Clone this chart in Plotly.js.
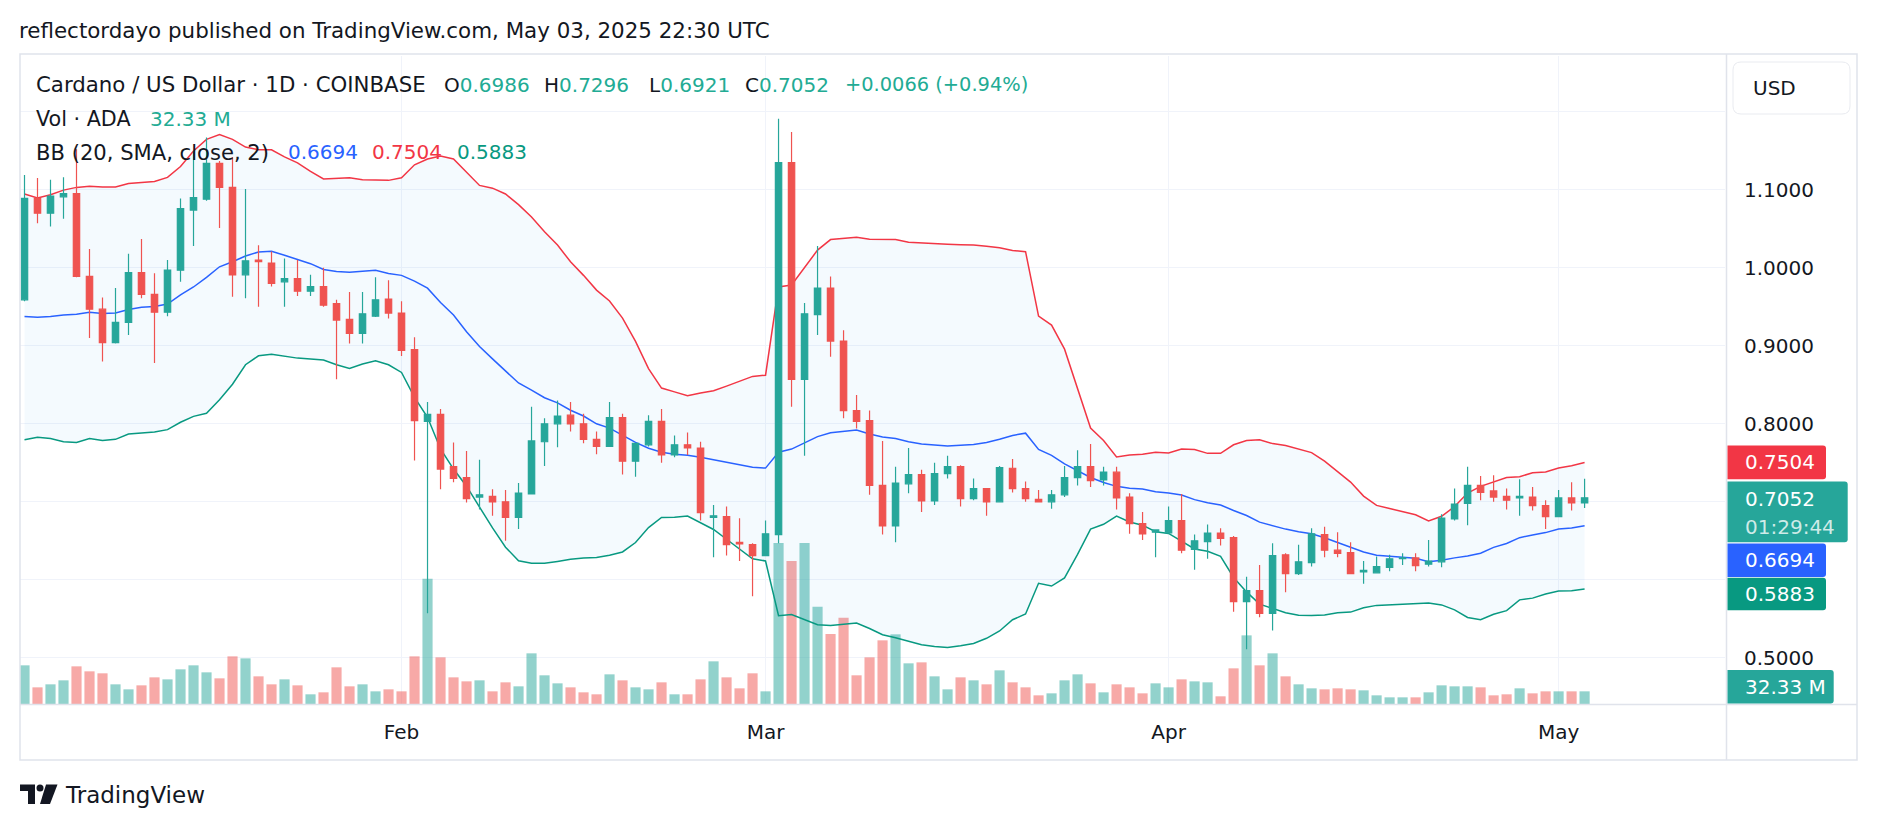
<!DOCTYPE html>
<html>
<head>
<meta charset="utf-8">
<script src="https://cdn.plot.ly/plotly-3.0.1.min.js"></script>
<style>
html,body{margin:0;padding:0;background:#ffffff;overflow:hidden;}
#chart{width:1878px;height:830px;}
</style>
</head>
<body>
<div id="chart"></div>
<script>
// ---------------- DATA ----------------
const dates = [
"2025-01-03","2025-01-04","2025-01-05","2025-01-06","2025-01-07","2025-01-08","2025-01-09","2025-01-10","2025-01-11","2025-01-12",
"2025-01-13","2025-01-14","2025-01-15","2025-01-16","2025-01-17","2025-01-18","2025-01-19","2025-01-20","2025-01-21","2025-01-22",
"2025-01-23","2025-01-24","2025-01-25","2025-01-26","2025-01-27","2025-01-28","2025-01-29","2025-01-30","2025-01-31","2025-02-01",
"2025-02-02","2025-02-03","2025-02-04","2025-02-05","2025-02-06","2025-02-07","2025-02-08","2025-02-09","2025-02-10","2025-02-11",
"2025-02-12","2025-02-13","2025-02-14","2025-02-15","2025-02-16","2025-02-17","2025-02-18","2025-02-19","2025-02-20","2025-02-21",
"2025-02-22","2025-02-23","2025-02-24","2025-02-25","2025-02-26","2025-02-27","2025-02-28","2025-03-01","2025-03-02","2025-03-03",
"2025-03-04","2025-03-05","2025-03-06","2025-03-07","2025-03-08","2025-03-09","2025-03-10","2025-03-11","2025-03-12","2025-03-13",
"2025-03-14","2025-03-15","2025-03-16","2025-03-17","2025-03-18","2025-03-19","2025-03-20","2025-03-21","2025-03-22","2025-03-23",
"2025-03-24","2025-03-25","2025-03-26","2025-03-27","2025-03-28","2025-03-29","2025-03-30","2025-03-31","2025-04-01","2025-04-02",
"2025-04-03","2025-04-04","2025-04-05","2025-04-06","2025-04-07","2025-04-08","2025-04-09","2025-04-10","2025-04-11","2025-04-12",
"2025-04-13","2025-04-14","2025-04-15","2025-04-16","2025-04-17","2025-04-18","2025-04-19","2025-04-20","2025-04-21","2025-04-22",
"2025-04-23","2025-04-24","2025-04-25","2025-04-26","2025-04-27","2025-04-28","2025-04-29","2025-04-30","2025-05-01","2025-05-02",
"2025-05-03"];

const openP = [
0.959,1.089,1.070,1.091,1.095,0.989,0.947,0.904,0.930,0.994,
0.966,0.943,0.997,1.074,1.088,1.134,1.103,0.991,1.010,1.006,
0.982,0.986,0.970,0.976,0.954,0.934,0.916,0.938,0.960,0.942,
0.895,0.803,0.812,0.745,0.731,0.706,0.707,0.700,0.680,0.710,
0.777,0.800,0.811,0.800,0.780,0.771,0.808,0.752,0.773,0.803,
0.760,0.773,0.769,0.680,0.681,0.648,0.645,0.631,0.658,1.135,
0.857,0.940,0.974,0.906,0.817,0.804,0.721,0.669,0.723,0.735,
0.701,0.736,0.745,0.704,0.717,0.700,0.743,0.717,0.703,0.700,
0.709,0.731,0.745,0.728,0.738,0.706,0.672,0.661,0.660,0.676,
0.639,0.649,0.660,0.654,0.572,0.586,0.557,0.632,0.608,0.622,
0.658,0.638,0.635,0.610,0.609,0.616,0.627,0.628,0.620,0.623,
0.678,0.698,0.721,0.714,0.707,0.705,0.706,0.695,0.681,0.705,
0.6986];

const highP = [
1.119,1.115,1.113,1.116,1.152,1.024,0.962,0.974,1.018,1.037,
0.993,1.010,1.089,1.150,1.167,1.137,1.142,1.101,1.029,1.021,
1.012,1.010,0.991,1.000,0.959,0.969,0.969,0.988,0.984,0.957,
0.911,0.828,0.819,0.776,0.765,0.754,0.716,0.715,0.724,0.822,
0.807,0.830,0.828,0.813,0.790,0.828,0.813,0.775,0.811,0.819,
0.785,0.789,0.777,0.696,0.694,0.679,0.647,0.676,1.191,1.174,
0.955,1.028,0.989,0.920,0.837,0.817,0.778,0.745,0.769,0.741,
0.750,0.759,0.747,0.730,0.717,0.746,0.755,0.726,0.715,0.715,
0.746,0.766,0.774,0.745,0.745,0.711,0.687,0.664,0.694,0.710,
0.658,0.671,0.666,0.656,0.604,0.619,0.647,0.634,0.645,0.666,
0.668,0.661,0.648,0.624,0.630,0.632,0.634,0.634,0.651,0.684,
0.717,0.745,0.733,0.734,0.717,0.729,0.719,0.702,0.715,0.725,
0.7296];

const lowP = [
0.957,1.057,1.053,1.063,0.988,0.910,0.880,0.903,0.914,0.961,
0.878,0.938,0.982,1.028,1.086,1.051,0.963,0.961,0.950,0.976,
0.950,0.964,0.964,0.950,0.857,0.903,0.903,0.937,0.935,0.887,
0.753,0.557,0.716,0.725,0.699,0.690,0.682,0.650,0.665,0.710,
0.746,0.770,0.790,0.775,0.761,0.771,0.735,0.732,0.771,0.750,
0.757,0.760,0.676,0.629,0.631,0.624,0.579,0.631,0.647,0.822,
0.759,0.914,0.886,0.807,0.794,0.709,0.658,0.648,0.711,0.687,
0.696,0.730,0.694,0.702,0.682,0.700,0.712,0.700,0.699,0.691,
0.706,0.721,0.719,0.721,0.690,0.659,0.651,0.629,0.660,0.634,
0.613,0.627,0.644,0.559,0.511,0.552,0.535,0.584,0.606,0.617,
0.629,0.629,0.607,0.595,0.609,0.611,0.619,0.611,0.617,0.616,
0.676,0.670,0.702,0.700,0.690,0.682,0.689,0.665,0.681,0.689,
0.6921];

const closeP = [
1.089,1.070,1.092,1.095,0.989,0.947,0.904,0.930,0.994,0.966,
0.943,0.997,1.076,1.090,1.134,1.103,0.991,1.009,1.008,0.980,
0.986,0.970,0.976,0.952,0.933,0.916,0.941,0.959,0.942,0.894,
0.804,0.812,0.742,0.730,0.704,0.709,0.700,0.680,0.711,0.778,
0.800,0.810,0.800,0.780,0.771,0.808,0.752,0.775,0.803,0.760,
0.773,0.769,0.686,0.682,0.645,0.646,0.631,0.659,1.135,0.857,
0.941,0.974,0.906,0.817,0.803,0.721,0.669,0.724,0.735,0.701,
0.736,0.745,0.704,0.717,0.700,0.744,0.717,0.704,0.700,0.709,
0.731,0.745,0.727,0.738,0.705,0.672,0.659,0.664,0.676,0.638,
0.650,0.660,0.653,0.572,0.586,0.557,0.631,0.608,0.623,0.659,
0.638,0.634,0.608,0.612,0.617,0.627,0.628,0.618,0.624,0.679,
0.697,0.721,0.712,0.706,0.702,0.707,0.695,0.681,0.705,0.6986,
0.7052];

// volume in millions of ADA
const volumeM = [
98.7,42.5,50.2,60.4,96.1,83.4,78.3,50.2,37.4,47.6,
68.0,62.9,88.5,98.7,80.8,65.5,121.6,116.5,70.6,50.2,
62.9,47.6,24.7,29.8,93.6,45.1,50.2,32.3,37.4,32.3,
121.6,319.7,119.1,68.0,57.8,60.4,32.3,55.3,45.1,129.3,
73.2,52.7,42.5,29.8,24.7,75.7,60.4,42.5,37.4,55.3,
24.7,24.7,62.9,108.9,68.0,40.0,78.3,32.3,411,365,
411,248,178.7,220,73.2,119.1,162.5,177.8,103.8,106.3,
70.6,37.4,68.0,60.4,50.2,85.9,55.3,42.5,22.1,27.2,
60.4,75.7,52.7,29.8,50.2,42.5,27.2,52.7,42.5,62.9,
57.8,55.3,19.6,91.0,175.2,98.7,129.3,70.6,50.2,40.0,
37.4,40.0,37.4,34.9,22.1,17.0,17.0,17.0,29.8,47.6,
45.1,45.1,42.5,22.1,24.7,40.0,27.2,32.3,32.3,32.3,
32.33];

// Bollinger Bands (20, SMA, close, 2) as drawn
const bbUpper = [
1.0946,1.0896,1.0936,1.0996,1.1031,1.1046,1.1036,1.1036,1.1081,1.1096,
1.1106,1.1159,1.1298,1.1498,1.1647,1.1707,1.1647,1.1548,1.1513,1.1513,
1.1423,1.1345,1.1235,1.1139,1.1146,1.1155,1.1130,1.1121,1.1121,1.1155,
1.1320,1.1395,1.1433,1.1395,1.1220,1.1056,1.1021,1.0946,1.0810,1.0651,
1.0461,1.0292,1.0077,0.9903,0.9714,0.9575,0.9355,0.9056,0.8708,0.8458,
0.8409,0.8359,0.8394,0.8424,0.8483,0.8548,0.8608,0.8623,0.9754,0.9779,
1.0003,1.0227,1.0362,1.0377,1.0392,1.0367,1.0367,1.0362,1.0327,1.0317,
1.0307,1.0302,1.0297,1.0292,1.0277,1.0257,1.0222,1.0207,0.9380,0.9266,
0.8957,0.8458,0.7945,0.7786,0.7576,0.7601,0.7611,0.7636,0.7626,0.7676,
0.7671,0.7621,0.7621,0.7731,0.7786,0.7796,0.7746,0.7721,0.7676,0.7631,
0.7522,0.7387,0.7253,0.7073,0.6954,0.6914,0.6874,0.6834,0.6754,0.6814,
0.6939,0.7113,0.7198,0.7253,0.7312,0.7322,0.7372,0.7382,0.7432,0.7462,
0.7504];

const bbBasis = [
0.9375,0.9365,0.9375,0.9395,0.9405,0.9430,0.9415,0.9420,0.9465,0.9495,
0.9505,0.9535,0.9654,0.9754,0.9878,1.0013,1.0078,1.0152,1.0202,1.0212,
1.0162,1.0103,1.0053,0.9978,0.9953,0.9943,0.9953,0.9968,0.9928,0.9903,
0.9829,0.9739,0.9555,0.9395,0.9181,0.8992,0.8832,0.8683,0.8523,0.8433,
0.8334,0.8269,0.8174,0.8100,0.8000,0.7945,0.7851,0.7761,0.7686,0.7636,
0.7611,0.7596,0.7571,0.7537,0.7512,0.7477,0.7442,0.7432,0.7636,0.7676,
0.7761,0.7836,0.7885,0.7900,0.7920,0.7870,0.7831,0.7811,0.7771,0.7741,
0.7726,0.7716,0.7726,0.7736,0.7761,0.7801,0.7851,0.7880,0.7671,0.7596,
0.7487,0.7397,0.7312,0.7248,0.7198,0.7173,0.7163,0.7128,0.7113,0.7088,
0.7028,0.6989,0.6959,0.6889,0.6824,0.6739,0.6690,0.6650,0.6615,0.6590,
0.6540,0.6480,0.6416,0.6356,0.6316,0.6301,0.6291,0.6276,0.6231,0.6251,
0.6281,0.6306,0.6341,0.6416,0.6465,0.6540,0.6575,0.6605,0.6650,0.6665,
0.6694];

const bbLower = [
0.7796,0.7826,0.7811,0.7771,0.7761,0.7811,0.7786,0.7801,0.7870,0.7885,
0.7895,0.7925,0.8020,0.8095,0.8135,0.8309,0.8508,0.8757,0.8872,0.8892,
0.8867,0.8842,0.8832,0.8817,0.8757,0.8708,0.8767,0.8807,0.8757,0.8658,
0.8338,0.8083,0.7677,0.7420,0.7200,0.6935,0.6665,0.6418,0.6245,0.6213,
0.6212,0.6236,0.6263,0.6280,0.6286,0.6316,0.6357,0.6478,0.6670,0.6800,
0.6803,0.6818,0.6730,0.6645,0.6520,0.6393,0.6270,0.6241,0.5540,0.5555,
0.5490,0.5425,0.5415,0.5426,0.5446,0.5376,0.5295,0.5258,0.5212,0.5168,
0.5145,0.5133,0.5155,0.5183,0.5250,0.5344,0.5488,0.5562,0.5955,0.5920,
0.6025,0.6325,0.6650,0.6712,0.6817,0.6742,0.6700,0.6617,0.6595,0.6495,
0.6395,0.6366,0.6302,0.6030,0.5845,0.5688,0.5638,0.5578,0.5545,0.5542,
0.5550,0.5576,0.5586,0.5641,0.5672,0.5678,0.5688,0.5693,0.5703,0.5678,
0.5615,0.5517,0.5487,0.5559,0.5605,0.5743,0.5765,0.5818,0.5855,0.5860,
0.5883];

const monthTickDates = ["2025-02-01","2025-03-01","2025-04-01","2025-05-01"];
const monthTickLabels = ["Feb","Mar","Apr","May"];
const priceTickVals = [0.5,0.6,0.7,0.8,0.9,1.0,1.1,1.2];
const priceTickText = ["0.5000","","","0.8000","0.9000","1.0000","1.1000",""];

// ---------------- STYLE ----------------
const FONT = "DejaVu Sans";
const INK = "#131722";
const UP = "#26a69a", DOWN = "#ef5350";
const UP_VOL = "rgba(38,166,154,0.5)", DOWN_VOL = "rgba(239,83,80,0.5)";
const GRID = "#f0f3fa";

const PX0 = 20, PX1 = 1725, PY0 = 56, PY1 = 704;
const px = x => (x - PX0) / (PX1 - PX0);
const py = y => (PY1 - y) / (PY1 - PY0);
const P = (x, y) => px(x) + "," + py(y);

const volColors = closeP.map((c, i) => c >= openP[i] ? UP_VOL : DOWN_VOL);

const traces = [
  {type: "bar", x: dates, y: volumeM, xaxis: "x", yaxis: "y",
   marker: {color: volColors, line: {width: 0}}, hoverinfo: "skip"},
  {type: "scatter", mode: "lines", x: dates, y: bbLower, xaxis: "x", yaxis: "y2",
   line: {color: "#089981", width: 1.5}, hoverinfo: "skip"},
  {type: "scatter", mode: "lines", x: dates, y: bbUpper, xaxis: "x", yaxis: "y2",
   line: {color: "#f23645", width: 1.5}, fill: "tonexty",
   fillcolor: "rgba(33,150,243,0.05)", hoverinfo: "skip"},
  {type: "scatter", mode: "lines", x: dates, y: bbBasis, xaxis: "x", yaxis: "y2",
   line: {color: "#2962ff", width: 1.5}, hoverinfo: "skip"},
  {type: "candlestick", x: dates, open: openP, high: highP, low: lowP, close: closeP,
   xaxis: "x", yaxis: "y3", whiskerwidth: 0,
   increasing: {line: {color: UP, width: 1.2}, fillcolor: UP},
   decreasing: {line: {color: DOWN, width: 1.2}, fillcolor: DOWN},
   hoverinfo: "none"}
];

const priceRange = [0.44077, 1.27154];

function txt(text, x, y, color, size, extra) {
  return Object.assign({
    text: text, x: px(x), y: py(y), xref: "paper", yref: "paper",
    xanchor: "left", yanchor: "middle", showarrow: false, borderpad: 0,
    font: {family: FONT, size: size || 20, color: color || INK}
  }, extra || {});
}
function roundRight(x0, y0, x1, y1, r, fill) {
  return {type: "path", xref: "paper", yref: "paper", layer: "above",
    path: `M ${P(x0,y0)} L ${P(x1-r,y0)} Q ${P(x1,y0)} ${P(x1,y0+r)} L ${P(x1,y1-r)} Q ${P(x1,y1)} ${P(x1-r,y1)} L ${P(x0,y1)} Z`,
    fillcolor: fill, line: {width: 0}};
}
function roundAll(x0, y0, x1, y1, r, fill, stroke) {
  return {type: "path", xref: "paper", yref: "paper", layer: "above",
    path: `M ${P(x0+r,y0)} L ${P(x1-r,y0)} Q ${P(x1,y0)} ${P(x1,y0+r)} L ${P(x1,y1-r)} Q ${P(x1,y1)} ${P(x1-r,y1)} L ${P(x0+r,y1)} Q ${P(x0,y1)} ${P(x0,y1-r)} L ${P(x0,y0+r)} Q ${P(x0,y0)} ${P(x0+r,y0)} Z`,
    fillcolor: fill, line: {width: 1, color: stroke}};
}
function lineSeg(x0, y0, x1, y1, color, w) {
  return {type: "line", xref: "paper", yref: "paper", layer: "above",
    x0: px(x0), y0: py(y0), x1: px(x1), y1: py(y1), line: {color: color, width: w}};
}

const shapes = [
  // chart frame and pane separators
  {type: "rect", xref: "paper", yref: "paper", layer: "above",
   x0: px(20), x1: px(1857), y0: py(760), y1: py(54),
   line: {color: "#e0e3eb", width: 1.5}, fillcolor: "rgba(0,0,0,0)"},
  lineSeg(1726.5, 54, 1726.5, 760, "#e0e3eb", 1.5),
  lineSeg(20, 704.5, 1857, 704.5, "#e0e3eb", 1.5),
  // USD button
  roundAll(1733, 62, 1850, 114, 8, "#ffffff", "#e9ebf0"),
  // price scale labels
  roundRight(1727.5, 445.5, 1826, 479.3, 3, "#f23645"),
  roundRight(1727.5, 481.5, 1847.7, 542.2, 3, "#26a69a"),
  roundRight(1727.5, 543.5, 1826, 576.9, 3, "#2962ff"),
  roundRight(1727.5, 577.8, 1826, 610.3, 3, "#089981"),
  roundRight(1727.5, 670, 1833.7, 703.5, 3, "#26a69a"),
  // TradingView logo mark
  {type: "path", xref: "paper", yref: "paper", layer: "above",
   path: `M ${P(20,784.5)} L ${P(35,784.5)} L ${P(35,804)} L ${P(28,804)} L ${P(28,791)} L ${P(20,791)} Z`,
   fillcolor: INK, line: {width: 0}},
  {type: "circle", xref: "paper", yref: "paper", layer: "above",
   x0: px(36.5), x1: px(43.5), y0: py(791.5), y1: py(784.5), fillcolor: INK, line: {width: 0}},
  {type: "path", xref: "paper", yref: "paper", layer: "above",
   path: `M ${P(46,784.5)} L ${P(57.5,784.5)} L ${P(50,804)} L ${P(40,804)} Z`,
   fillcolor: INK, line: {width: 0}}
];

const TEAL_TXT = "#22ab94";
const annotations = [
  txt("reflectordayo published on TradingView.com, May 03, 2025 22:30 UTC", 18, 31, INK, 21.4),
  txt("Cardano / US Dollar · 1D · COINBASE", 35, 85, INK, 21.3),
  txt(`O<span style="color:${TEAL_TXT}">0.6986</span>`, 443, 85),
  txt(`H<span style="color:${TEAL_TXT}">0.7296</span>`, 542.5, 85),
  txt(`L<span style="color:${TEAL_TXT}">0.6921</span>`, 647.5, 85),
  txt(`C<span style="color:${TEAL_TXT}">0.7052</span>`, 744, 85),
  txt("+0.0066 (+0.94%)", 844, 85, TEAL_TXT, 19.4),
  txt("Vol · ADA", 35, 118.6, INK, 20.7),
  txt("32.33 M", 148.5, 118.6, TEAL_TXT),
  txt("BB (20, SMA, close, 2)", 35, 152, INK, 21.1),
  txt("0.6694", 286.5, 152, "#2962ff"),
  txt("0.7504", 371, 152, "#f23645"),
  txt("0.5883", 456.5, 152, "#089981"),
  // price scale
  txt("USD", 1752, 88),
  txt("0.7504", 1744, 462.4, "#ffffff"),
  txt("0.7052", 1744, 498.8, "#ffffff"),
  txt("01:29:44", 1744, 527, "rgba(255,255,255,0.78)"),
  txt("0.6694", 1744, 560.2, "#ffffff"),
  txt("0.5883", 1744, 594, "#ffffff"),
  txt("32.33 M", 1744, 686.8, "#ffffff"),
  // footer
  txt("TradingView", 64, 795, INK, 23)
];

const layout = {
  width: 1878, height: 830,
  margin: {l: PX0, r: 1878 - PX1, t: PY0, b: 830 - PY1, pad: 0},
  paper_bgcolor: "#ffffff", plot_bgcolor: "#ffffff",
  showlegend: false, bargap: 0.22, boxgap: 0.3,
  font: {family: FONT, size: 20, color: INK},
  xaxis: {type: "date", range: ["2025-01-02 15:42", "2025-05-13 19:12"],
    tickvals: monthTickDates, ticktext: monthTickLabels,
    showgrid: true, gridcolor: GRID, gridwidth: 1.3,
    ticks: "", showline: false, zeroline: false, ticklabelstandoff: 14,
    tickfont: {family: FONT, size: 20, color: INK},
    rangeslider: {visible: false}, fixedrange: true},
  yaxis: {range: [0, 1654], visible: false, fixedrange: true},
  yaxis2: {overlaying: "y", side: "right", range: priceRange,
    tickvals: priceTickVals, ticktext: priceTickText,
    showgrid: true, gridcolor: GRID, gridwidth: 1.3, zeroline: false,
    ticks: "", showline: false, ticklabelstandoff: 18,
    tickfont: {family: FONT, size: 20, color: INK}, fixedrange: true},
  yaxis3: {overlaying: "y", side: "right", range: priceRange, visible: false,
    showgrid: false, zeroline: false, fixedrange: true},
  shapes: shapes,
  annotations: annotations
};

Plotly.newPlot("chart", traces, layout, {staticPlot: true, displayModeBar: false});
</script>
</body>
</html>
